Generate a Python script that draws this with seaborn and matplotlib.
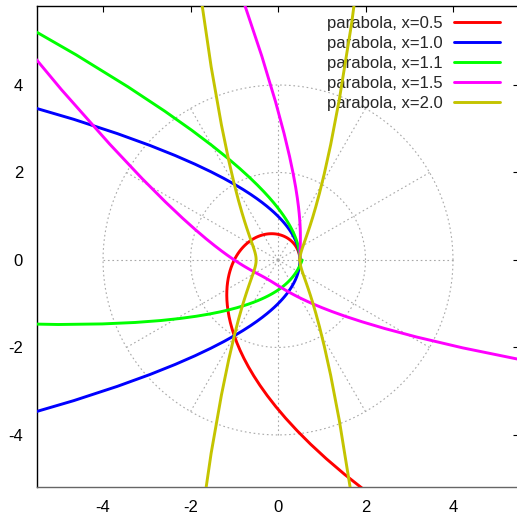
import numpy as np
import pandas as pd
import matplotlib
matplotlib.use("Agg")
import matplotlib.pyplot as plt
import seaborn as sns

# Curve family: polar r = 1 / (1 + cos(x * t)), t in [0, 2*pi]
x_params = [0.5, 1.0, 1.1, 1.5, 2.0]
labels = ["parabola, x=0.5", "parabola, x=1.0", "parabola, x=1.1",
          "parabola, x=1.5", "parabola, x=2.0"]
colors = ["#ff0000", "#0000ff", "#00ff00", "#ff00ff", "#c4c400"]
n_samples = 100
grid_radii = [2, 4]
grid_angles_deg = list(range(0, 360, 30))
ticks = [-4, -2, 0, 2, 4]

sns.set_style("white")
plt.rcParams["font.family"] = ["Liberation Sans", "DejaVu Sans"]
plt.rcParams["axes.unicode_minus"] = False

W = H = 517
fig = plt.figure(figsize=(W / 100, H / 100), dpi=100)
left_px, right_px, top_px, bottom_px = 37, 518.6, 6, 487
ax = fig.add_axes([left_px / W, (H - bottom_px) / H,
                   (right_px - left_px) / W, (bottom_px - top_px) / H])

# polar grid
phi = np.linspace(0, 2 * np.pi, 361)
for rr in grid_radii:
    ax.plot(rr * np.cos(phi), rr * np.sin(phi), color="#a8a8a8",
            lw=0.8, ls=(0, (1.5, 2.5)), zorder=1)
for a in grid_angles_deg:
    ar = np.deg2rad(a)
    ax.plot([0, grid_radii[-1] * np.cos(ar)], [0, grid_radii[-1] * np.sin(ar)],
            color="#a8a8a8", lw=0.8, ls=(0, (1.5, 2.5)), zorder=1)

t = np.linspace(0, 2 * np.pi, n_samples)
frames = []
for xp, lab in zip(x_params, labels):
    with np.errstate(divide="ignore", invalid="ignore"):
        r = 1.0 / (1.0 + np.cos(xp * t))
    r = np.where(np.isfinite(r) & (np.abs(r) < 1e4), r, np.nan)
    frames.append(pd.DataFrame({"px": r * np.cos(t), "py": r * np.sin(t),
                                "step": np.arange(n_samples), "curve": lab}))
df = pd.concat(frames, ignore_index=True).dropna()

sns.lineplot(data=df, x="px", y="py", hue="curve", hue_order=labels,
             palette=colors, sort=False, estimator=None, units="curve",
             lw=2.1, ax=ax, zorder=3)

ax.set_xlim(-5.51, 5.5)
ax.set_ylim(-5.19, 5.806)
ax.set_xticks(ticks)
ax.set_yticks(ticks)
ax.set_xlabel("")
ax.set_ylabel("")
ax.tick_params(direction="in", length=4.3, width=0.8, top=True, right=True,
               labelsize=12, colors="black", pad=9)
ax.tick_params(axis="y", pad=10)
for s in ax.spines.values():
    s.set_color("black")
    s.set_linewidth(1.0)
ax.spines["bottom"].set_color("#666666")

handles, labs = ax.get_legend_handles_labels()
leg = ax.legend(handles, labs, loc="upper right", bbox_to_anchor=(0.962, 0.980),
                frameon=False, markerfirst=False, fontsize=12, handlelength=2.8,
                handletextpad=0.65, labelspacing=0.3, borderpad=0, borderaxespad=0)
for h in leg.get_lines():
    h.set_linewidth(2.1)
leg.set_zorder(2)

fig.savefig("out.png", dpi=100)
